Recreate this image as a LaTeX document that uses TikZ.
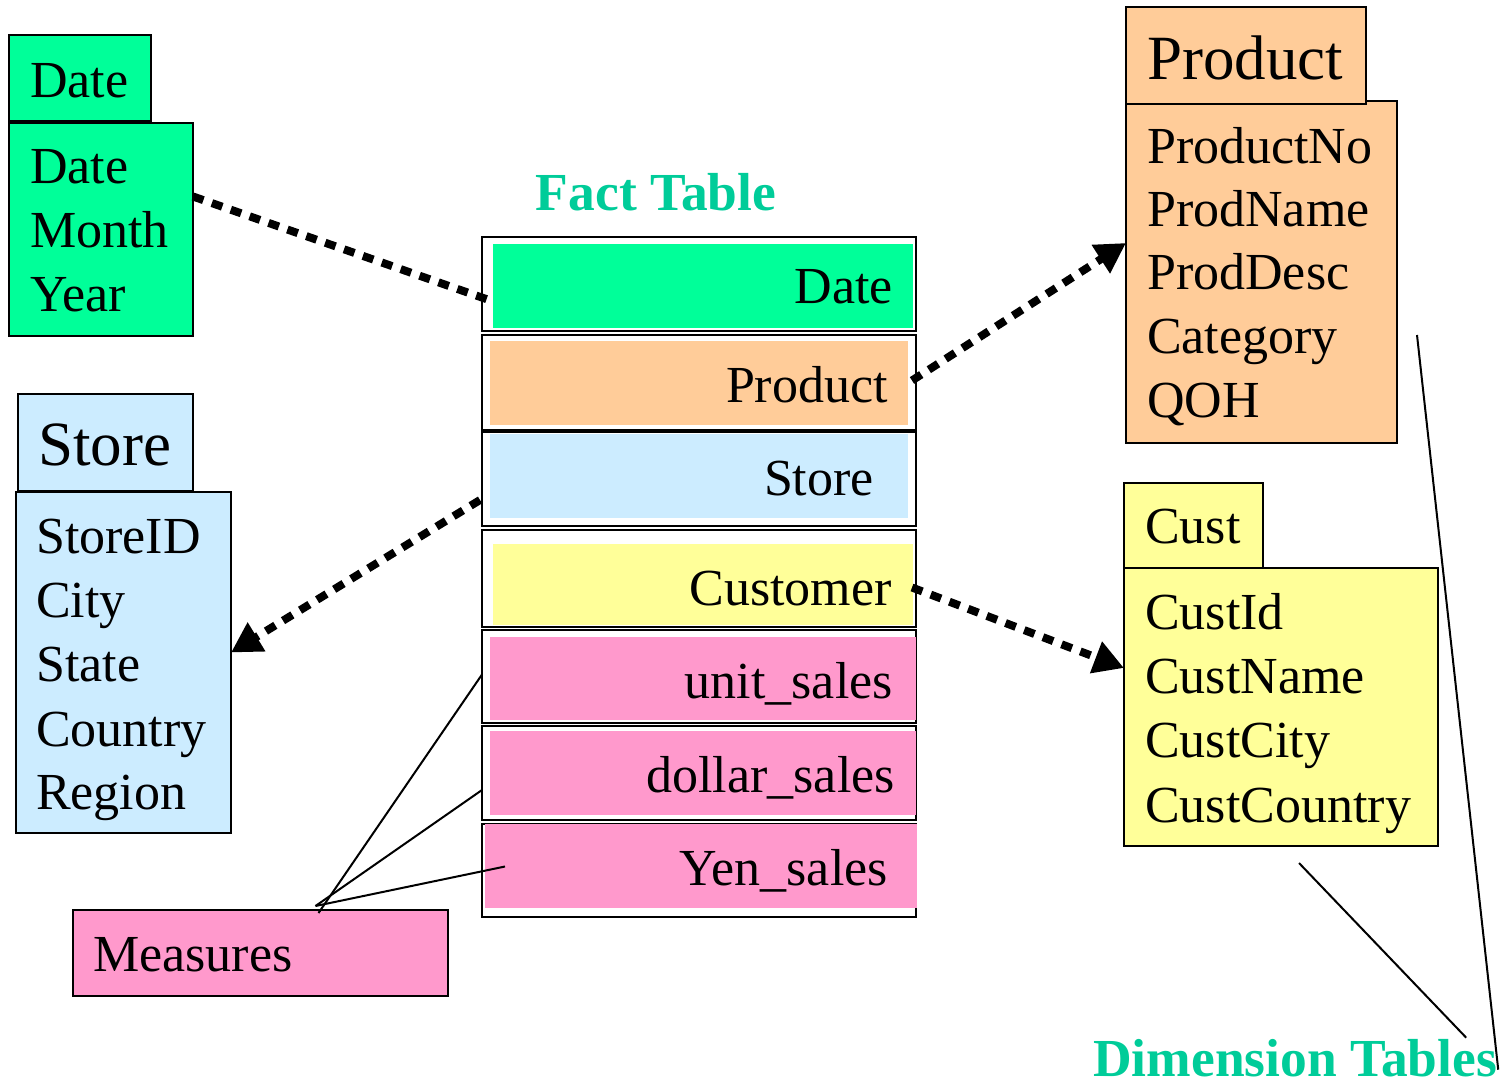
\documentclass[tikz,border=0pt]{standalone}
\usepackage{fontspec}
\setmainfont{Liberation Serif}
\usetikzlibrary{arrows.meta}
\definecolor{dimgreen}{HTML}{00FF99}
\definecolor{prodorange}{HTML}{FFCC99}
\definecolor{storeblue}{HTML}{CCECFF}
\definecolor{custyellow}{HTML}{FFFF99}
\definecolor{measpink}{HTML}{FF99CC}
\definecolor{headgreen}{HTML}{00CC99}
\tikzset{
  tbl/.style={draw=black, line width=2pt, inner sep=0pt, outer sep=0pt, anchor=north west},
  factrow/.style={draw=black, line width=2.6pt, inner sep=0pt, outer sep=0pt, anchor=north west},
  band/.style={draw=none, inner sep=0pt, outer sep=0pt, anchor=north west},
  lbl/.style={inner sep=0pt, anchor=base west, font=\fontsize{52}{64}\selectfont},
  rlbl/.style={inner sep=0pt, anchor=base east, font=\fontsize{52}{64}\selectfont},
  biglbl/.style={inner sep=0pt, anchor=base west, font=\fontsize{63}{72}\selectfont},
  heading/.style={inner sep=0pt, font=\fontsize{53.5}{60}\selectfont\bfseries, text=headgreen},
  link/.style={line width=8pt, dash pattern=on 11pt off 9pt},
  linktip/.style={-{Triangle[length=30pt,width=32pt]}},
  pointer/.style={line width=2pt},
}
\begin{document}
\begin{tikzpicture}[x=1pt,y=-1pt]
\useasboundingbox (0,0) rectangle (1505,1081);

% ---- Date dimension ----
\node[tbl, fill=dimgreen, minimum width=142, minimum height=86] (datehead) at (9,35) {};
\node[tbl, fill=dimgreen, minimum width=184, minimum height=213] (datebody) at (9,123) {};
\node[lbl] (datet) at (30,97) {Date};
\node[lbl] (date1) at (30,183) {Date};
\node[lbl] (date2) at (30,247) {Month};
\node[lbl] (date3) at (30,311) {Year};

% ---- Store dimension ----
\node[tbl, fill=storeblue, minimum width=175, minimum height=97] (storehead) at (18,394) {};
\node[tbl, fill=storeblue, minimum width=215, minimum height=341] (storebody) at (16,492) {};
\node[biglbl] (storet) at (38,465) {Store};
\node[lbl] (store1) at (36,553) {StoreID};
\node[lbl] (store2) at (36,617) {City};
\node[lbl] (store3) at (36,681) {State};
\node[lbl] (store4) at (36,746) {Country};
\node[lbl] (store5) at (36,809) {Region};

% ---- Product dimension ----
\node[tbl, fill=prodorange, minimum width=271, minimum height=342] (prodbody) at (1126,101) {};
\node[tbl, fill=prodorange, minimum width=240, minimum height=97] (prodhead) at (1126,7) {};
\node[biglbl] (prodt) at (1147,80) {Product};
\node[lbl] (prod1) at (1147,163) {ProductNo};
\node[lbl] (prod2) at (1147,226) {ProdName};
\node[lbl] (prod3) at (1147,289) {ProdDesc};
\node[lbl] (prod4) at (1147,353) {Category};
\node[lbl] (prod5) at (1147,417) {QOH};

% ---- Customer dimension ----
\node[tbl, fill=custyellow, minimum width=139, minimum height=85] (custhead) at (1124,483) {};
\node[tbl, fill=custyellow, minimum width=314, minimum height=278] (custbody) at (1124,568) {};
\node[lbl] (custt) at (1145,543) {Cust};
\node[lbl] (cust1) at (1145,629) {CustId};
\node[lbl] (cust2) at (1145,693) {CustName};
\node[lbl] (cust3) at (1145,757) {CustCity};
\node[lbl] (cust4) at (1145,822) {CustCountry};

% ---- Fact table rows ----
\node[heading, anchor=base] (facttitle) at (656,210) {Fact Table};
\node[factrow, minimum width=434, minimum height=94] (r1) at (482,237) {};
\node[factrow, minimum width=434, minimum height=95] (r2) at (482,335) {};
\node[factrow, minimum width=434, minimum height=94] (r3) at (482,432) {};
\node[factrow, minimum width=434, minimum height=97] (r4) at (482,530) {};
\node[factrow, minimum width=434, minimum height=93] (r5) at (482,630) {};
\node[factrow, minimum width=434, minimum height=94] (r6) at (482,726) {};
\node[factrow, minimum width=434, minimum height=93] (r7) at (482,824) {};

\node[band, fill=dimgreen, minimum width=420, minimum height=84] (f1) at (493,244) {};
\node[band, fill=prodorange, minimum width=418, minimum height=84] (f2) at (490,341) {};
\node[band, fill=storeblue, minimum width=418, minimum height=84] (f3) at (490,434) {};
\node[band, fill=custyellow, minimum width=420, minimum height=81] (f4) at (493,544) {};
\node[band, fill=measpink, minimum width=426, minimum height=83] (f5) at (490,637) {};
\node[band, fill=measpink, minimum width=426, minimum height=84] (f6) at (490,731) {};
\node[band, fill=measpink, minimum width=432, minimum height=84] (f7) at (485,824) {};

\node[rlbl] (t1) at (893,303) {Date};
\node[rlbl] (t2) at (888,402) {Product};
\node[rlbl] (t3) at (874,495) {Store};
\node[rlbl] (t4) at (892,605) {Customer};
\node[rlbl] (t5) at (893,698) {unit\_sales};
\node[rlbl] (t6) at (895,792) {dollar\_sales};
\node[rlbl] (t7) at (888,885) {Yen\_sales};

% ---- Measures ----
\node[tbl, fill=measpink, minimum width=375, minimum height=86] (measures) at (73,910) {};
\node[lbl] (meast) at (93,971) {Measures};

\draw[pointer] ([xshift=58pt,yshift=-3pt]measures.north) -- ([yshift=2pt]r5.west);
\draw[pointer] ([xshift=55pt,yshift=4pt]measures.north) -- ([yshift=-17pt]r6.west);
\draw[pointer] ([xshift=55pt,yshift=4pt]measures.north) -- ([xshift=23pt,yshift=4pt]r7.west);

% ---- Foreign key links ----
\draw[link] ([yshift=33pt]datebody.east) -- ([xshift=7pt,yshift=-16pt]r1.west);
\draw[link, linktip] ([xshift=-4pt,yshift=2pt]r2.east) -- ([yshift=29pt]prodbody.west);
\draw[link, linktip] ([xshift=-2pt,yshift=-21pt]r3.west) -- ([yshift=10pt]storebody.east);
\draw[link, linktip] ([xshift=-4pt,yshift=-9pt]r4.east) -- ([yshift=39pt]custbody.west);

% ---- Dimension tables label ----
\node[heading, anchor=base west] (dimtitle) at (1093,1076) {Dimension Tables};
\coordinate (dimA) at (1417,335);
\coordinate (dimB) at (1299,863);
\draw[pointer] (dimA) -- ([xshift=1pt,yshift=-12pt]dimtitle.east);
\draw[pointer] (dimB) -- ([xshift=-31pt,yshift=20pt]dimtitle.east);
\end{tikzpicture}
\end{document}
